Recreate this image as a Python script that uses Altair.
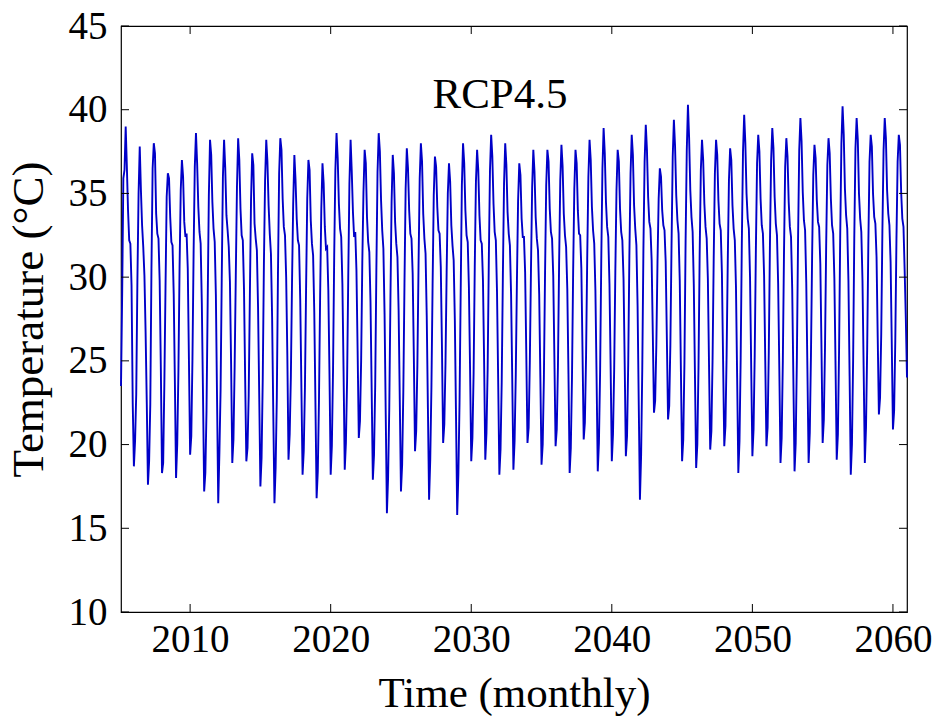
import altair as alt
import pandas as pd

# Monthly mean temperature (°C), Jan..Dec for each year, RCP4.5 scenario
temps_2005_2009 = [
    23.5, 29.0, 35.9, 36.4, 39.0, 36.6, 34.0, 32.2, 32.0, 29.5, 22.5, 18.7,
    20.2, 23.0, 29.8, 35.0, 37.8, 35.2, 33.1, 31.8, 30.1, 26.7, 22.5, 17.6,
    19.0, 22.4, 30.5, 36.5, 38.0, 37.4, 33.8, 32.6, 32.3, 29.8, 24.6, 18.3,
    18.9, 23.6, 29.4, 34.8, 36.2, 35.9, 33.6, 32.1, 31.9, 29.0, 23.7, 18.0,
    20.0, 24.3, 30.6, 35.2, 37.0, 36.0, 33.3, 32.4, 32.6, 30.5, 25.0, 19.4,
]
temps_2010_2019 = [
    20.5, 25.1, 31.6, 36.6, 38.6, 36.8, 34.2, 32.7, 32.0, 28.4, 23.0, 17.2,
    18.3, 22.0, 28.5, 34.9, 38.2, 37.3, 34.5, 32.9, 32.1, 28.9, 22.7, 16.5,
    19.5, 23.2, 29.9, 36.0, 38.2, 36.5, 33.7, 32.8, 31.8, 29.7, 24.8, 18.9,
    20.3, 24.6, 30.1, 35.4, 38.3, 37.0, 34.1, 32.5, 32.2, 29.3, 23.9, 19.0,
    19.8, 22.9, 28.8, 34.6, 37.4, 36.7, 33.2, 32.3, 31.6, 28.2, 22.9, 17.5,
    19.2, 23.9, 30.8, 35.8, 38.2, 36.9, 34.3, 32.6, 31.4, 27.6, 21.9, 16.5,
    18.6, 22.7, 30.2, 36.2, 38.3, 37.6, 34.7, 33.0, 32.5, 30.0, 25.3, 19.1,
    20.6, 24.0, 29.7, 34.4, 37.3, 35.8, 33.5, 32.2, 31.9, 28.7, 23.4, 18.2,
    19.6, 23.3, 29.3, 34.7, 37.0, 36.4, 33.4, 32.0, 31.3, 27.9, 22.4, 16.8,
    18.4, 22.6, 28.9, 34.1, 36.8, 35.6, 33.0, 31.7, 31.8, 29.2, 24.1, 18.2,
]
temps_2020_2029 = [
    19.9, 24.4, 31.2, 36.4, 38.6, 37.1, 34.4, 32.9, 32.4, 29.6, 24.4, 18.5,
    20.1, 23.8, 30.0, 35.6, 38.2, 36.3, 33.9, 32.4, 32.7, 30.4, 25.6, 20.4,
    21.4, 25.0, 30.9, 35.1, 37.6, 36.8, 33.6, 32.1, 31.5, 28.5, 23.2, 17.9,
    19.4, 23.5, 30.4, 36.3, 38.6, 37.5, 34.6, 32.8, 31.7, 27.8, 21.8, 15.9,
    18.0, 22.1, 28.6, 34.5, 37.3, 36.2, 33.3, 32.0, 31.2, 28.0, 22.6, 17.2,
    18.8, 23.1, 29.6, 35.3, 37.7, 36.5, 34.0, 32.6, 32.3, 30.2, 25.2, 19.6,
    20.8, 24.7, 30.7, 35.9, 38.0, 36.9, 33.8, 32.3, 31.4, 27.7, 22.2, 16.7,
    19.1, 23.4, 29.5, 34.9, 37.2, 36.6, 34.2, 32.8, 32.6, 30.6, 25.8, 20.1,
    21.2, 24.8, 30.3, 35.0, 36.8, 35.7, 33.1, 31.9, 31.0, 27.4, 21.7, 15.8,
    18.2, 22.5, 29.2, 35.5, 38.0, 36.8, 34.0, 32.5, 32.1, 29.4, 24.5, 19.0,
]
temps_2030_2039 = [
    20.4, 24.2, 30.6, 35.7, 37.6, 36.4, 33.7, 32.2, 32.0, 29.8, 24.9, 19.1,
    20.7, 24.5, 31.0, 36.4, 38.5, 37.2, 34.4, 32.7, 32.2, 29.1, 23.8, 18.2,
    19.7, 23.7, 30.1, 35.6, 38.0, 36.7, 33.9, 32.6, 31.9, 29.0, 23.9, 18.5,
    20.2, 24.1, 29.8, 34.6, 36.8, 36.1, 33.5, 32.4, 32.4, 30.3, 25.4, 20.1,
    21.0, 24.9, 30.5, 35.4, 37.6, 36.3, 33.6, 32.3, 31.6, 29.0, 24.0, 18.8,
    20.0, 23.9, 30.2, 35.5, 37.6, 36.9, 34.1, 32.7, 32.3, 30.1, 25.1, 19.9,
    20.9, 24.6, 30.8, 35.8, 37.9, 36.6, 33.8, 32.5, 31.8, 29.3, 24.2, 18.3,
    19.8, 24.0, 30.4, 35.3, 37.6, 36.8, 34.0, 32.6, 32.5, 30.5, 25.5, 20.3,
    21.3, 25.2, 31.1, 36.0, 38.2, 37.0, 34.2, 32.8, 32.0, 29.2, 24.0, 18.4,
    20.1, 24.3, 31.0, 36.5, 38.9, 37.4, 34.5, 33.0, 32.4, 29.6, 24.6, 19.0,
]
temps_2040_2049 = [
    20.6, 24.4, 30.3, 35.2, 37.6, 36.9, 34.1, 32.7, 32.2, 29.9, 24.8, 19.3,
    20.5, 24.8, 31.3, 36.2, 38.5, 37.3, 34.3, 32.9, 31.9, 28.3, 22.4, 16.7,
    19.3, 24.5, 31.8, 36.9, 39.1, 37.6, 34.8, 33.3, 32.9, 31.0, 26.6, 21.9,
    22.6, 25.9, 30.9, 34.7, 36.5, 36.0, 34.0, 33.1, 32.8, 30.9, 26.3, 21.5,
    22.3, 26.0, 32.0, 37.2, 39.4, 37.8, 34.9, 33.4, 32.6, 29.8, 24.3, 19.0,
    20.3, 24.9, 32.2, 37.6, 40.3, 38.3, 35.2, 33.6, 32.7, 29.5, 24.0, 18.6,
    20.0, 24.6, 31.4, 36.4, 38.2, 37.0, 34.4, 33.0, 32.3, 29.9, 24.7, 19.7,
    20.8, 25.0, 31.2, 36.2, 38.2, 37.3, 34.6, 33.2, 32.8, 30.2, 25.0, 19.9,
    21.1, 25.3, 31.0, 35.8, 37.7, 37.0, 34.3, 32.9, 32.2, 29.4, 24.0, 18.3,
    20.2, 25.1, 32.1, 37.5, 39.7, 38.0, 35.0, 33.5, 32.9, 30.0, 24.6, 19.3,
]
temps_2050_2060 = [
    20.9, 25.4, 31.7, 36.8, 38.5, 37.5, 34.7, 33.1, 32.6, 30.1, 25.0, 19.9,
    21.0, 25.5, 32.0, 37.0, 38.9, 37.7, 34.8, 33.2, 32.5, 29.6, 24.5, 18.9,
    20.4, 25.0, 31.5, 36.6, 38.3, 37.2, 34.5, 33.0, 32.4, 29.3, 23.9, 18.4,
    20.1, 25.2, 32.3, 37.6, 39.5, 38.1, 35.1, 33.4, 32.8, 29.7, 24.4, 18.9,
    20.7, 25.3, 31.3, 36.1, 37.9, 37.1, 34.6, 33.3, 33.0, 30.8, 25.7, 20.1,
    21.5, 25.8, 31.9, 36.7, 38.3, 37.4, 34.7, 33.1, 32.6, 29.9, 24.7, 19.1,
    20.6, 25.6, 32.6, 38.0, 40.2, 38.5, 35.3, 33.7, 32.9, 29.8, 24.1, 18.2,
    20.0, 25.0, 32.4, 37.7, 39.5, 38.2, 35.0, 33.5, 32.7, 29.8, 24.5, 18.9,
    21.0, 25.7, 32.0, 36.9, 38.5, 37.8, 35.0, 33.6, 33.2, 31.2, 26.4, 21.8,
    22.8, 26.6, 32.8, 37.6, 39.5, 38.3, 35.2, 33.8, 33.1, 30.9, 26.0, 20.9,
    22.0, 26.2, 32.3, 36.9, 38.5, 37.9, 35.1, 33.5, 33.0, 30.4, 27.5, 24.0,
]

start_year = 2005
x_ticks = [2010, 2020, 2030, 2040, 2050, 2060]
y_ticks = [10, 15, 20, 25, 30, 35, 40, 45]
x_domain = [2005 + 1 / 12, 2061]
y_domain = [10, 45]

values = (temps_2005_2009 + temps_2010_2019 + temps_2020_2029
          + temps_2030_2039 + temps_2040_2049 + temps_2050_2060)
times = [start_year + (i + 1) / 12 for i in range(len(values))]
df = pd.DataFrame({"time": times, "temp": values})

W, H = 786, 586
FONT = "Liberation Serif"
FS_TICK = 39
FS_TITLE = 43
FS_YTITLE = 45
TL = 8  # inward tick length

xs = alt.Scale(domain=x_domain, nice=False, zero=False)
ys = alt.Scale(domain=y_domain, nice=False, zero=False)

line = alt.Chart(df).mark_line(color="#0000c8", strokeWidth=1.9).encode(
    x=alt.X("time:Q", scale=xs,
            axis=alt.Axis(values=x_ticks, format="d", ticks=False, domain=False,
                          grid=False, labelFont=FONT, labelFontSize=FS_TICK,
                          labelColor="black", labelPadding=8,
                          title="Time (monthly)", titleFont=FONT,
                          titleFontSize=FS_TITLE, titleFontWeight="normal",
                          titleColor="black", titlePadding=13)),
    y=alt.Y("temp:Q", scale=ys,
            axis=alt.Axis(values=y_ticks, ticks=False, domain=False, grid=False,
                          labelFont=FONT, labelFontSize=FS_TICK,
                          labelColor="black", labelPadding=14,
                          title="Temperature (°C)", titleFont=FONT,
                          titleFontSize=FS_YTITLE, titleFontWeight="normal",
                          titleColor="black", titlePadding=17)),
)

xt = pd.DataFrame({"t": x_ticks})
yt = pd.DataFrame({"v": y_ticks})

tick_style = dict(color="black", strokeWidth=1)
bottom_ticks = alt.Chart(xt).mark_rule(**tick_style).encode(
    x=alt.X("t:Q", scale=xs), y=alt.value(H), y2=alt.value(H - TL))
top_ticks = alt.Chart(xt).mark_rule(**tick_style).encode(
    x=alt.X("t:Q", scale=xs), y=alt.value(0), y2=alt.value(TL))
left_ticks = alt.Chart(yt).mark_rule(**tick_style).encode(
    y=alt.Y("v:Q", scale=ys), x=alt.value(0), x2=alt.value(TL))
right_ticks = alt.Chart(yt).mark_rule(**tick_style).encode(
    y=alt.Y("v:Q", scale=ys), x=alt.value(W), x2=alt.value(W - TL))

label = alt.Chart(pd.DataFrame({"s": ["RCP4.5"]})).mark_text(
    font=FONT, fontSize=FS_TITLE, color="black", align="center",
    baseline="middle"
).encode(text="s:N", x=alt.value(379), y=alt.value(69))

chart = alt.layer(
    line, bottom_ticks, top_ticks, left_ticks, right_ticks, label
).properties(
    width=W, height=H,
    autosize=alt.AutoSizeParams(type="none"),
    padding={"left": 121, "top": 26, "right": 28, "bottom": 107},
    background="white",
).configure_view(stroke="black", strokeWidth=1.2)

chart.save("out.html", embed_options={"renderer": "svg", "actions": False})
